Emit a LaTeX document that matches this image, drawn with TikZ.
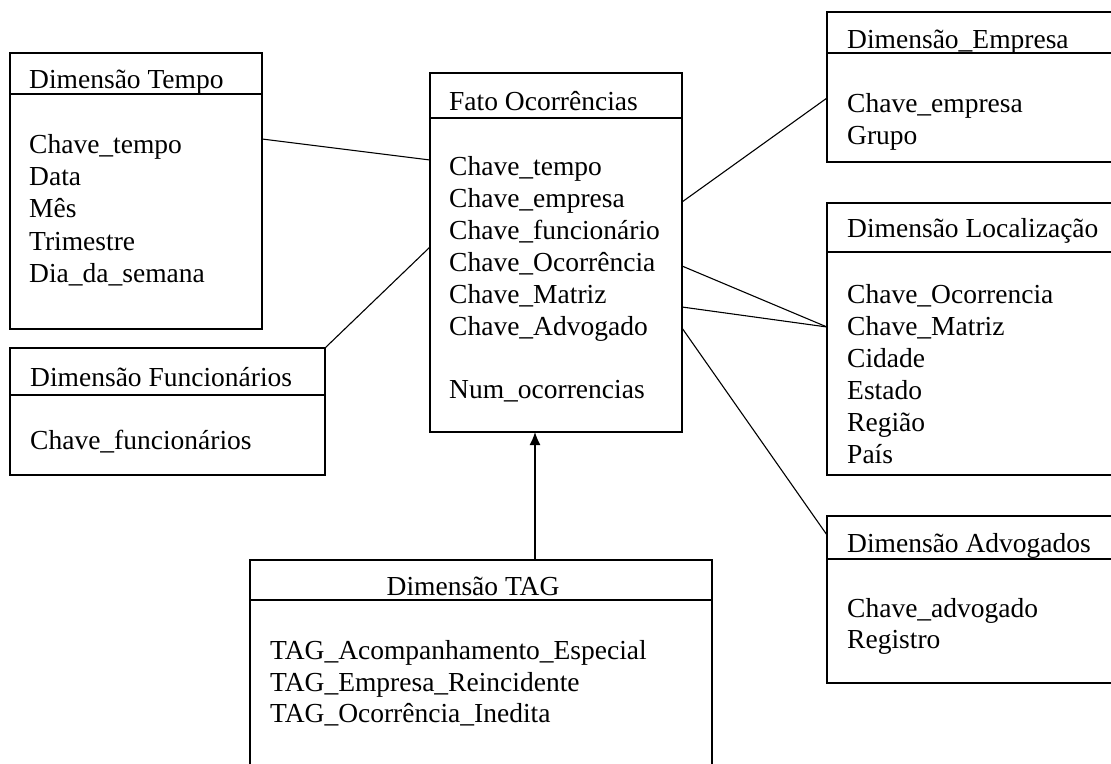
\documentclass[tikz,border=0pt]{standalone}
\usepackage{fontspec}
\setmainfont{Liberation Serif}
\usetikzlibrary{arrows.meta,calc}
\tikzset{
  box/.style={draw, line width=1.3pt, rectangle, inner sep=0pt, outer sep=0pt, anchor=north west},
  rule/.style={line width=1.3pt},
  txt/.style={anchor=base west, inner sep=0pt, font=\fontsize{27.5}{32}\selectfont},
  ttl/.style={txt},
  link/.style={line width=1.1pt},
  arrowlink/.style={line width=1.3pt, -{Latex[length=13pt,width=11pt]}},
}
\begin{document}
\begin{tikzpicture}[x=1pt,y=-1pt]
\useasboundingbox (0,0) rectangle (1111,763);
\fill[white] (0,0) rectangle (1111,763);
\clip (0,0) rectangle (1111,763);

% ---- tables ----
\node[box, minimum width=252pt, minimum height=276pt] (tempo) at (10,53) {};
\draw[rule] (tempo.west |- 0,94) -- (tempo.east |- 0,94);
\node[ttl] (tempo-t) at (29,88) {Dimensão Tempo};
\node[txt] (tempo-1) at (29,153) {Chave\_tempo};
\node[txt] (tempo-2) at (29,185) {Data};
\node[txt] (tempo-3) at (29,217) {Mês};
\node[txt] (tempo-4) at (29,250) {Trimestre};
\node[txt] (tempo-5) at (29,282) {Dia\_da\_semana};

\node[box, minimum width=252pt, minimum height=359pt] (fato) at (430,73) {};
\draw[rule] (fato.west |- 0,118) -- (fato.east |- 0,118);
\node[ttl] (fato-t) at (449,110) {Fato Ocorrências};
\node[txt] (fato-1) at (449,175) {Chave\_tempo};
\node[txt] (fato-2) at (449,207) {Chave\_empresa};
\node[txt] (fato-3) at (449,239) {Chave\_funcionário};
\node[txt] (fato-4) at (449,271) {Chave\_Ocorrência};
\node[txt] (fato-5) at (449,303) {Chave\_Matriz};
\node[txt] (fato-6) at (449,335) {Chave\_Advogado};
\node[txt] (fato-7) at (449,398) {Num\_ocorrencias};

\node[box, minimum width=288pt, minimum height=150pt] (empresa) at (827,12) {};
\draw[rule] (empresa.west |- 0,53) -- (empresa.east |- 0,53);
\node[ttl] (empresa-t) at (847,48) {Dimensão\_Empresa};
\node[txt] (empresa-1) at (847,112) {Chave\_empresa};
\node[txt] (empresa-2) at (847,144) {Grupo};

\node[box, minimum width=288pt, minimum height=272pt] (loc) at (827,203) {};
\draw[rule] (loc.west |- 0,252) -- (loc.east |- 0,252);
\node[ttl] (loc-t) at (847,237) {Dimensão Localização};
\node[txt] (loc-1) at (847,303) {Chave\_Ocorrencia};
\node[txt] (loc-2) at (847,335) {Chave\_Matriz};
\node[txt] (loc-3) at (847,367) {Cidade};
\node[txt] (loc-4) at (847,399) {Estado};
\node[txt] (loc-5) at (847,431) {Região};
\node[txt] (loc-6) at (847,463) {País};

\node[box, minimum width=315pt, minimum height=127pt] (func) at (10,348) {};
\draw[rule] (func.west |- 0,395) -- (func.east |- 0,395);
\node[ttl] (func-t) at (30,386) {Dimensão Funcionários};
\node[txt] (func-1) at (30,449) {Chave\_funcionários};

\node[box, minimum width=462pt, minimum height=240pt] (tag) at (250,560) {};
\draw[rule] (tag.west |- 0,600) -- (tag.east |- 0,600);
\node[ttl, anchor=base] (tag-t) at (473,595) {Dimensão TAG};
\node[txt] (tag-1) at (270,659) {TAG\_Acompanhamento\_Especial};
\node[txt] (tag-2) at (270,691) {TAG\_Empresa\_Reincidente};
\node[txt] (tag-3) at (270,722) {TAG\_Ocorrência\_Inedita};

\node[box, minimum width=288pt, minimum height=167pt] (adv) at (827,516) {};
\draw[rule] (adv.west |- 0,559) -- (adv.east |- 0,559);
\node[ttl] (adv-t) at (847,552) {Dimensão Advogados};
\node[txt] (adv-1) at (847,617) {Chave\_advogado};
\node[txt] (adv-2) at (847,648) {Registro};

% ---- relationships ----
\draw[link] ($(tempo.north east)+(0,86)$) -- ($(fato.north west)+(0,87)$);
\draw[link] (func.north east) -- ($(fato.north west)+(0,174)$);
\draw[link] ($(fato.north east)+(0,129)$) -- ($(empresa.north west)+(0,86)$);
\draw[link] ($(fato.north east)+(0,193)$) -- ($(loc.north west)+(0,124)$);
\draw[link] ($(fato.north east)+(0,234)$) -- ($(loc.north west)+(0,124)$);
\draw[link] ($(fato.north east)+(0,255)$) -- ($(adv.north west)+(0,19)$);
\draw[arrowlink] ($(tag.north west)+(285,0)$) -- ($(fato.south west)+(105,0)$);
\end{tikzpicture}
\end{document}
